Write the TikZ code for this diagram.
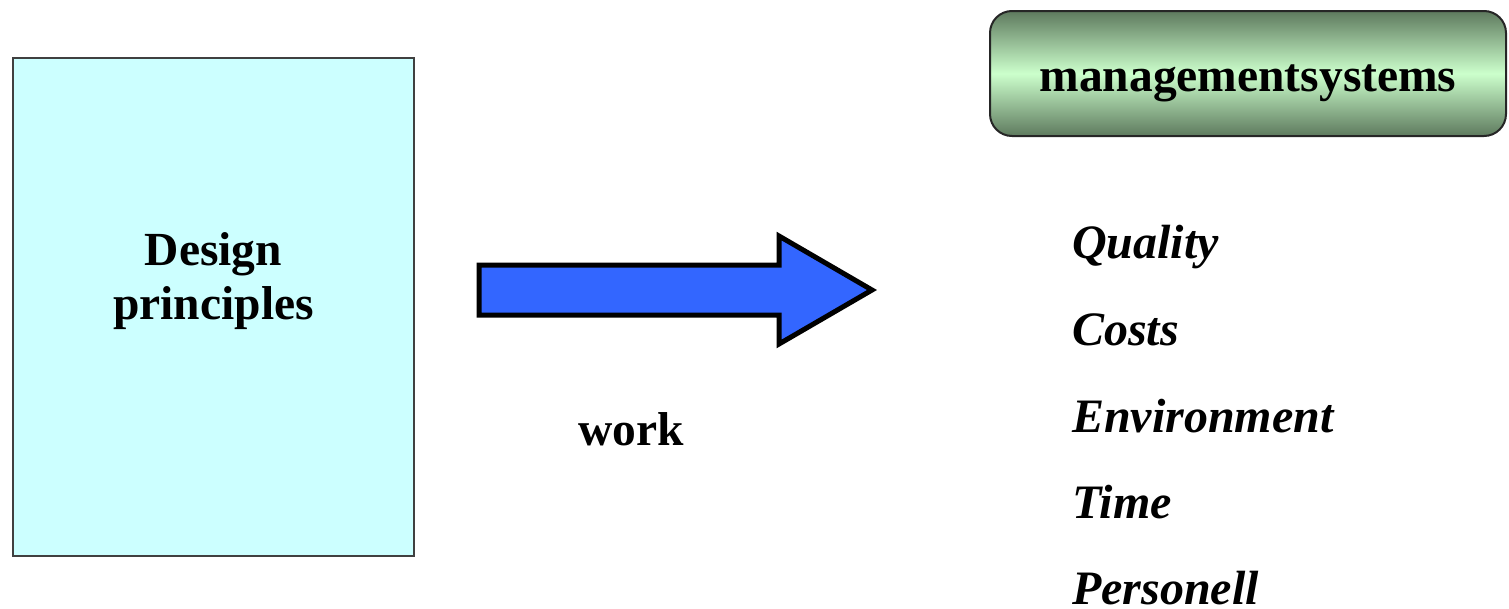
\documentclass[tikz,border=0pt]{standalone}
\usepackage{fontspec}
\setmainfont{Liberation Serif}
\usepackage{tikz}
\usetikzlibrary{positioning}
\definecolor{boxcyan}{RGB}{204,255,255}
\definecolor{mgmtlight}{RGB}{204,255,204}
\definecolor{mgmtdark}{RGB}{94,122,94}
\definecolor{arrowblue}{RGB}{51,102,255}

\tikzset{
    bigtext/.style={font=\fontsize{47.5}{54}\selectfont\bfseries, inner sep=0pt},
    aspect/.style={font=\fontsize{48}{54}\selectfont\bfseries\itshape, inner sep=0pt, anchor=base west},
}

\begin{document}
\begin{tikzpicture}[x=1pt,y=-1pt]
    \useasboundingbox (0,0) rectangle (1509,608);

    % Principles box on the left
    \node[draw=black!75, line width=1.5pt, fill=boxcyan, minimum width=401pt, minimum height=498pt] (design) at (213.5,307) {};
    \node[bigtext, align=center, anchor=base] (designtext) at (213.5,319) {Design\\principles};

    % Block arrow in the middle
    \draw[line width=5pt, line join=miter, fill=arrowblue]
        (479,265) -- (779,265) -- (779,236) -- (872,290) -- (779,344) -- (779,315) -- (479,315) -- cycle;
    \node[bigtext, anchor=base] (work) at (631,445) {work};

    % Management systems header
    \shade[rounded corners=22pt, top color=mgmtdark, bottom color=mgmtdark, middle color=mgmtlight]
        (990,11) rectangle (1506,136);
    \draw[rounded corners=22pt, line width=2pt, black!85] (990,11) rectangle (1506,136);
    \node[bigtext, anchor=base] (mgmt) at (1248,91) {managementsystems};

    % Aspects
    \node[aspect] (quality) at (1072,258) {Quality};
    \node[aspect] (costs) at (1072,345) {Costs};
    \node[aspect] (environment) at (1072,432) {Environment};
    \node[aspect] (time) at (1072,518) {Time};
    \node[aspect] (personell) at (1072,604) {Personell};
\end{tikzpicture}
\end{document}
